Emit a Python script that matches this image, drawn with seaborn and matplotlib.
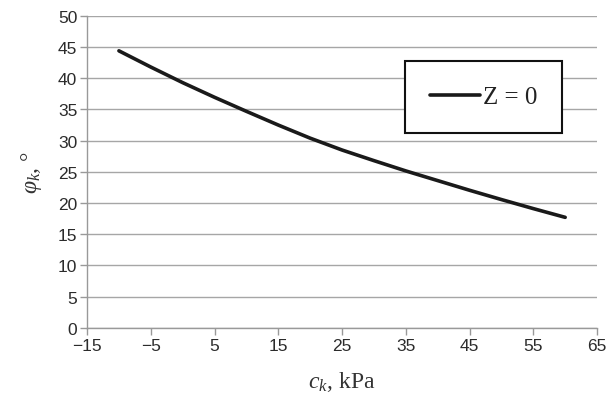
import matplotlib
matplotlib.use("Agg")
import matplotlib.pyplot as plt
import seaborn as sns
import pandas as pd

c_k = [-10, -5, 0, 5, 10, 15, 20, 25, 30, 35, 40, 45, 50, 55, 60]
phi_k = [44.4, 41.8, 39.3, 36.95, 34.7, 32.5, 30.4, 28.5, 26.8, 25.15, 23.6, 22.05, 20.56, 19.11, 17.71]
series_label = "Z = 0"
x_ticks = [-15, -5, 5, 15, 25, 35, 45, 55, 65]
y_ticks = [0, 5, 10, 15, 20, 25, 30, 35, 40, 45, 50]

sns.set_theme(style="white")
plt.rcParams['font.family'] = ['Liberation Sans', 'DejaVu Sans']
plt.rcParams['mathtext.fontset'] = 'custom'
plt.rcParams['mathtext.rm'] = 'Liberation Serif'
plt.rcParams['mathtext.it'] = 'Liberation Serif:italic'

df = pd.DataFrame({"c": c_k, "phi": phi_k, "s": series_label})

fig = plt.figure(figsize=(6.13, 4.02), dpi=100)
ax = fig.add_axes([0.142, 0.182, 0.832, 0.776])

sns.lineplot(data=df, x="c", y="phi", hue="s", palette=["#1a1a1a"],
             linewidth=2.6, ax=ax)

ax.set_xlim(-15, 65)
ax.set_ylim(0, 50)
ax.set_xticks(x_ticks)
ax.set_yticks(y_ticks)
ax.yaxis.grid(True, color="#a6a6a6", linewidth=1.0)
ax.xaxis.grid(False)
for s in ["top", "right"]:
    ax.spines[s].set_visible(False)
for s in ["left", "bottom"]:
    ax.spines[s].set_color("#999999")
    ax.spines[s].set_linewidth(1.0)
ax.tick_params(axis="both", direction="out", length=5, width=1.0,
               color="#999999", labelsize=12.5, labelcolor="#2b2b2b", pad=2)
ax.tick_params(axis="x", bottom=True)
ax.tick_params(axis="y", left=True)

ax.set_xlabel(r"$c_k$, kPa", family=["Liberation Serif"], fontsize=17,
              color="#333333", labelpad=12)
ax.set_ylabel(r"$\varphi_k$, °", family=["Liberation Serif"], fontsize=17,
              color="#333333", labelpad=10)

leg = ax.legend(loc="upper left", bbox_to_anchor=(0.6235, 0.856),
                frameon=True, fancybox=False,
                prop={"family": "Liberation Serif", "size": 18},
                handlelength=2.0, handletextpad=0.1, borderpad=1.0,
                borderaxespad=0)
leg.get_frame().set_edgecolor("#111111")
leg.get_frame().set_linewidth(1.5)
leg.get_frame().set_facecolor("white")
leg.get_frame().set_alpha(1)
for t in leg.get_texts():
    t.set_color("#222222")

fig.savefig("out.png", dpi=100)
